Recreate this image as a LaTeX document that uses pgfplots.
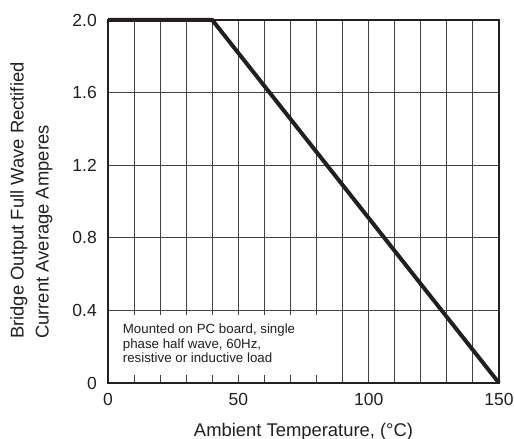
\documentclass[border=0pt]{standalone}
\usepackage{fontspec}
\setmainfont{Liberation Sans}
\usepackage{pgfplots}
\pgfplotsset{compat=1.18}
\definecolor{ink}{HTML}{231F20}

\begin{document}
\begin{tikzpicture}
\begin{axis}[
  name=ax,
  scale only axis,
  width=391bp, height=363bp,
  xmin=0, xmax=150, ymin=0, ymax=2,
  xtick={0,10,...,150},
  xticklabels={0,,,,,50,,,,,100,,,,,150},
  ytick={0,0.4,0.8,1.2,1.6,2.0},
  yticklabels={0,0.4,0.8,1.2,1.6,2.0},
  major tick length=0pt,
  grid=major,
  major grid style={line width=0.9bp, color=ink!85},
  axis line style={line width=2.8bp, color=ink},
  tick label style={font=\fontsize{17.5bp}{20bp}\selectfont, text=ink},
  xticklabel style={inner sep=0pt, yshift=-10bp},
  yticklabel style={inner sep=0pt, xshift=-11bp},
  /pgf/number format/assume math mode=true,
  clip=false,
  xlabel={Ambient Temperature, (°C)},
  xlabel style={at={(axis description cs:0.5,0)}, anchor=north, inner sep=0pt,
    yshift=-39.5bp, font=\fontsize{18.4bp}{22bp}\selectfont, text=ink},
]
% white note box covers the grid in the lower left corner
\fill[white] (axis cs:0.7,0.044) rectangle (axis cs:89.6,0.372);
\node[anchor=north west, inner sep=0pt, align=left,
  font=\fontsize{13.3bp}{14.2bp}\selectfont, text=ink]
  at (axis cs:5.64,0.325)
  {Mounted on PC board, single\\phase half wave, 60Hz,\\resistive or inductive load};
\addplot[line width=4bp, color=ink] coordinates {(0,2) (40,2) (150,0)};
\end{axis}
\node[rotate=90, anchor=north west, inner sep=0pt, align=left,
  font=\fontsize{18.4bp}{25bp}\selectfont, text=ink]
  at ([shift={(-98bp,44bp)}]ax.south west)
  {Bridge Output Full Wave Rectified\\Current Average Amperes};
\pgfresetboundingbox
\path ([shift={(-108bp,-56bp)}]ax.south west) rectangle ([shift={(15bp,20bp)}]ax.north east);
\end{tikzpicture}
\end{document}
